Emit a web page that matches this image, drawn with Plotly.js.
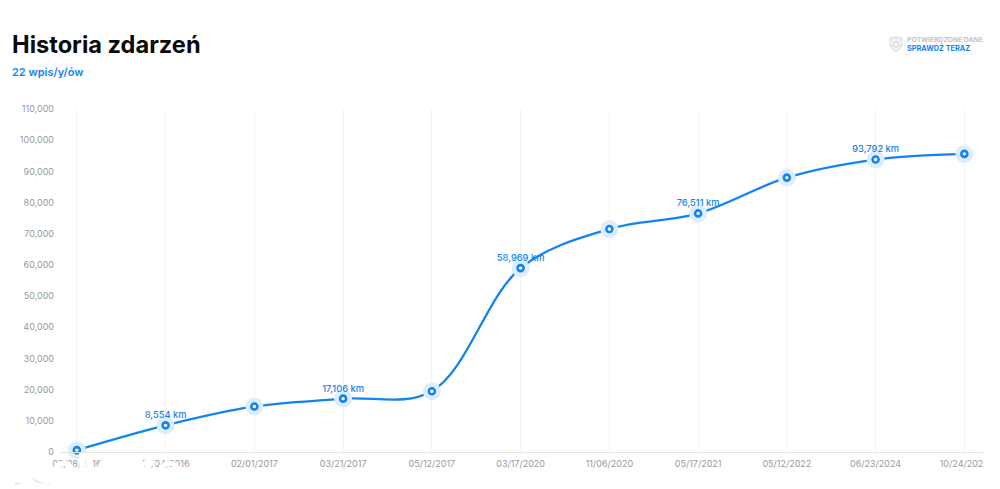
<!DOCTYPE html>
<html><head><meta charset="utf-8">
<script src="https://cdn.plot.ly/plotly-3.0.1.min.js"></script>
<style>html,body{margin:0;padding:0;background:#fff;overflow:hidden}#c{width:983px;height:489px;overflow:hidden}</style>
</head><body><div id="c"></div>
<script>
var dates=["03/08/2016","10/04/2016","02/01/2017","03/21/2017","05/12/2017","03/17/2020","11/06/2020","05/17/2021","05/12/2022","06/23/2024","10/24/2024"];
var km=[600,8554,14600,17106,19500,58969,71500,76511,88000,93792,95600];
var labels=["","8,554 km","","17,106 km","","58,969 km","","76,511 km","","93,792 km",""];
var yTicks=[0,10000,20000,30000,40000,50000,60000,70000,80000,90000,100000,110000];
var yTickText=["0","10,000","20,000","30,000","40,000","50,000","60,000","70,000","80,000","90,000","100,000","110,000"];
var idx=dates.map(function(d,i){return i;});
var BLUE="#1284f2",F="Inter, sans-serif";
var W=1000,H=489,L=60,R=17,T=109,B=37;
var pw=W-L-R,ph=H-T-B;
function ax(x){return (x-L)/pw;} function ay(y){return (H-B-y)/ph;}
var traces=[
 {x:idx,y:km,mode:"lines",line:{shape:"spline",smoothing:1,color:BLUE,width:2.3},hoverinfo:"skip",cliponaxis:false},
 {x:idx,y:km,mode:"markers",marker:{size:18,color:"#dcedfd"},hoverinfo:"skip",cliponaxis:false},
 {x:idx,y:km,mode:"markers+text",text:labels,textposition:"top center",
  textfont:{family:F,size:9.3,color:BLUE,weight:500},
  marker:{size:6,color:"#fff",line:{color:BLUE,width:2.6}},hoverinfo:"skip",cliponaxis:false}
];
var layout={
 width:W,height:H,margin:{l:L,r:R,t:T,b:B},paper_bgcolor:"#fff",plot_bgcolor:"#fff",showlegend:false,
 font:{family:F},
 xaxis:{type:"linear",range:[-0.19,10.21],tickmode:"array",tickvals:idx,ticktext:dates,showgrid:true,gridcolor:"#f3f3f3",gridwidth:1,
  showline:true,linecolor:"#e4e4e4",zeroline:false,ticks:"",tickfont:{family:F,size:9,color:"#999"},tickangle:0,fixedrange:true,ticklabelstandoff:3},
 yaxis:{range:[0,110000],tickmode:"array",tickvals:yTicks,ticktext:yTickText,showgrid:false,zeroline:false,ticks:"",
  tickfont:{family:F,size:9,color:"#999"},fixedrange:true,ticklabelstandoff:5},
 annotations:[
  {xref:"paper",yref:"paper",x:ax(10),y:ay(44),xanchor:"left",yanchor:"middle",showarrow:false,text:"<b>Historia zdarzeń</b>",font:{family:F,size:23.6,color:"#0a0a0a"}},
  {xref:"paper",yref:"paper",x:ax(10),y:ay(72),xanchor:"left",yanchor:"middle",showarrow:false,text:"22 wpis/y/ów",font:{family:F,size:11,color:BLUE,weight:600}},
  {xref:"paper",yref:"paper",x:ax(905),y:ay(39),xanchor:"left",yanchor:"middle",showarrow:false,text:"POTWIERDZONE DANE",font:{family:F,size:6.8,color:"#c4c4c4",weight:700}},
  {xref:"paper",yref:"paper",x:ax(905),y:ay(48),xanchor:"left",yanchor:"middle",showarrow:false,text:"SPRAWDŹ TERAZ",font:{family:F,size:7.3,color:BLUE,weight:700}},
  {xref:"paper",yref:"paper",x:ax(8),y:ay(469),xanchor:"left",yanchor:"middle",showarrow:false,text:"otoMoto",font:{family:F,size:42,color:"#fff",weight:700}}
 ],
 shapes:[
  {type:"path",xref:"paper",yref:"paper",path:"M "+ax(890)+" "+ay(38)+" L "+ax(896)+" "+ay(37)+" L "+ax(902)+" "+ay(38)+" L "+ax(902)+" "+ay(45)+" Q "+ax(900)+" "+ay(50)+" "+ax(896)+" "+ay(52)+" Q "+ax(892)+" "+ay(50)+" "+ax(890)+" "+ay(45)+" Z",
   fillcolor:"#eef0f2",line:{color:"#d6d9dc",width:1}},
  {type:"circle",xref:"paper",yref:"paper",x0:ax(893.5),x1:ax(898.5),y0:ay(47),y1:ay(42),fillcolor:"#fff",line:{color:"#cfd3d6",width:1}},
  {type:"path",xref:"paper",yref:"paper",path:"M "+ax(15)+" "+ay(484)+" Q "+ax(24)+" "+ay(484)+" "+ax(30)+" "+ay(476)+" Q "+ax(36)+" "+ay(484)+" "+ax(50)+" "+ay(484),
   line:{color:"#d4d4d4",width:1}}
 ]
};
Plotly.newPlot("c",traces,layout,{displayModeBar:false,staticPlot:true});
</script></body></html>
